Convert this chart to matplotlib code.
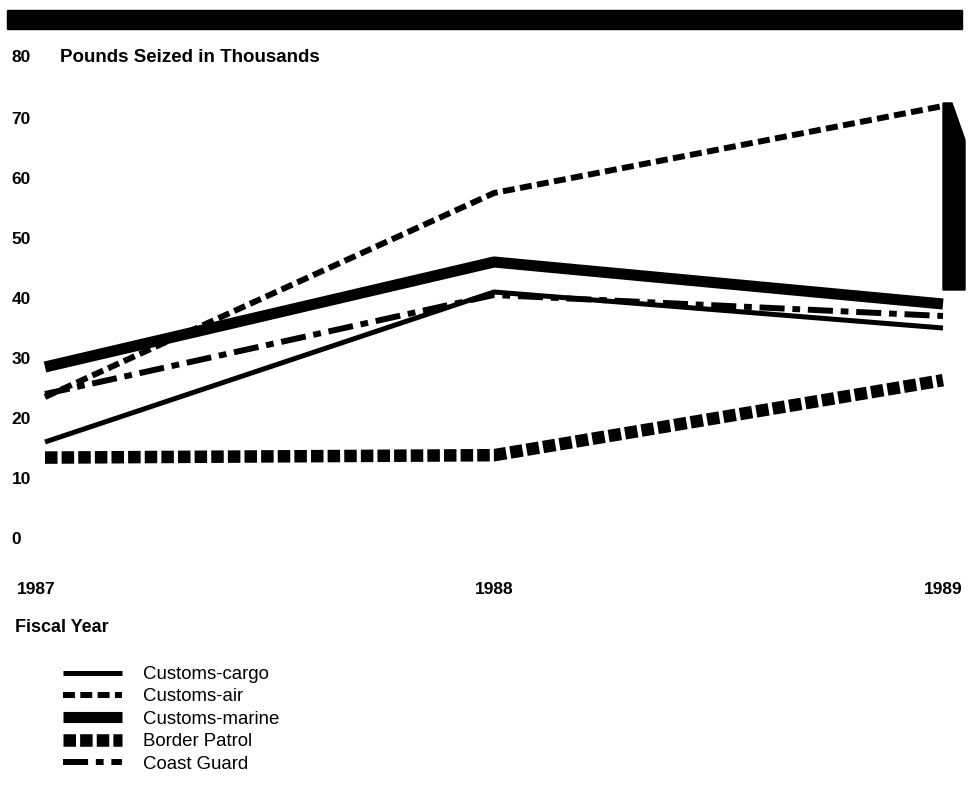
import matplotlib.pyplot as plt
from matplotlib.patches import Rectangle, Polygon
import matplotlib.transforms as mtransforms

plt.rcParams['font.family'] = ['Liberation Sans', 'DejaVu Sans']

years = [1987, 1988, 1989]
year_labels = ["1987", "1988", "1989"]
y_ticks = [0, 10, 20, 30, 40, 50, 60, 70, 80]

customs_cargo = [16, 41, 35]
customs_air = [23.5, 57.5, 72]
customs_marine = [28.5, 46, 39]
border_patrol = [13.4, 13.8, 26.3]
coast_guard = [24, 40.5, 37]

W, H = 969, 789
fig = plt.figure(figsize=(W / 100, H / 100), dpi=100)


def px(x, y):
    # pixel position (from top-left) to figure fraction
    return (x / W, 1 - y / H)


# black header bar across the top
fig.patches.append(Rectangle(px(7, 29), 955 / W, 19 / H,
                             transform=fig.transFigure, color='black'))
# heavy black smear at the right edge of the scan
fig.patches.append(Polygon([px(943, 103), px(952, 103), px(965, 140), px(965, 290), px(943, 290)],
                           closed=True, transform=fig.transFigure, color='black'))

ax = fig.add_axes([45 / W, (H - 538) / H, 898 / W, 480 / H])
ax.set_xlim(1987, 1989)
ax.set_ylim(0, 80)
for s in ax.spines.values():
    s.set_visible(False)

kw = dict(color='black', clip_on=False, solid_capstyle='butt', dash_capstyle='butt')
ax.plot(years, border_patrol, lw=9, dashes=(1.0, 0.33), label='Border Patrol', **kw)
ax.plot(years, customs_cargo, lw=3.6, label='Customs-cargo', **kw)
ax.plot(years, coast_guard, lw=4.3, dashes=(4.2, 1.3, 1.3, 1.3), label='Coast Guard', **kw)
ax.plot(years, customs_marine, lw=8, label='Customs-marine', **kw)
ax.plot(years, customs_air, lw=4.3, dashes=(2.0, 0.9), label='Customs-air', **kw)

fs = 12.5
ax.set_yticks(y_ticks)
ax.set_yticklabels([str(v) for v in y_ticks if v != 80] + [""])
ax.tick_params(axis='y', length=0, pad=24)
for t in ax.get_yticklabels():
    t.set_horizontalalignment('left')
    t.set_fontweight('bold')
    t.set_fontsize(fs)

ax.set_xticks(years)
ax.set_xticklabels(year_labels)
ax.tick_params(axis='x', length=0, pad=32)
for t in ax.get_xticklabels():
    t.set_fontweight('bold')
    t.set_fontsize(fs)
first = ax.get_xticklabels()[0]
first.set_transform(first.get_transform() + mtransforms.ScaledTranslation(-9 / 100, 0, fig.dpi_scale_trans))

fig.text(*px(12, 58), "80", fontsize=fs, fontweight='bold', va='center', ha='left')
fig.text(*px(60, 58), "Pounds Seized in Thousands", fontsize=13.5, fontweight='bold',
         va='center', ha='left')
fig.text(*px(15, 628), "Fiscal Year", fontsize=13, fontweight='bold', va='center', ha='left')

handles, labels = ax.get_legend_handles_labels()
order = ['Customs-cargo', 'Customs-air', 'Customs-marine', 'Border Patrol', 'Coast Guard']
hmap = dict(zip(labels, handles))
ax.legend([hmap[k] for k in order], order, loc='upper left',
          bbox_to_anchor=px(63, 666), bbox_transform=fig.transFigure,
          frameon=False, fontsize=13.4, handlelength=3.17, handletextpad=1.13,
          labelspacing=0.29, borderpad=0, borderaxespad=0)

fig.savefig('out.png', dpi=100)
